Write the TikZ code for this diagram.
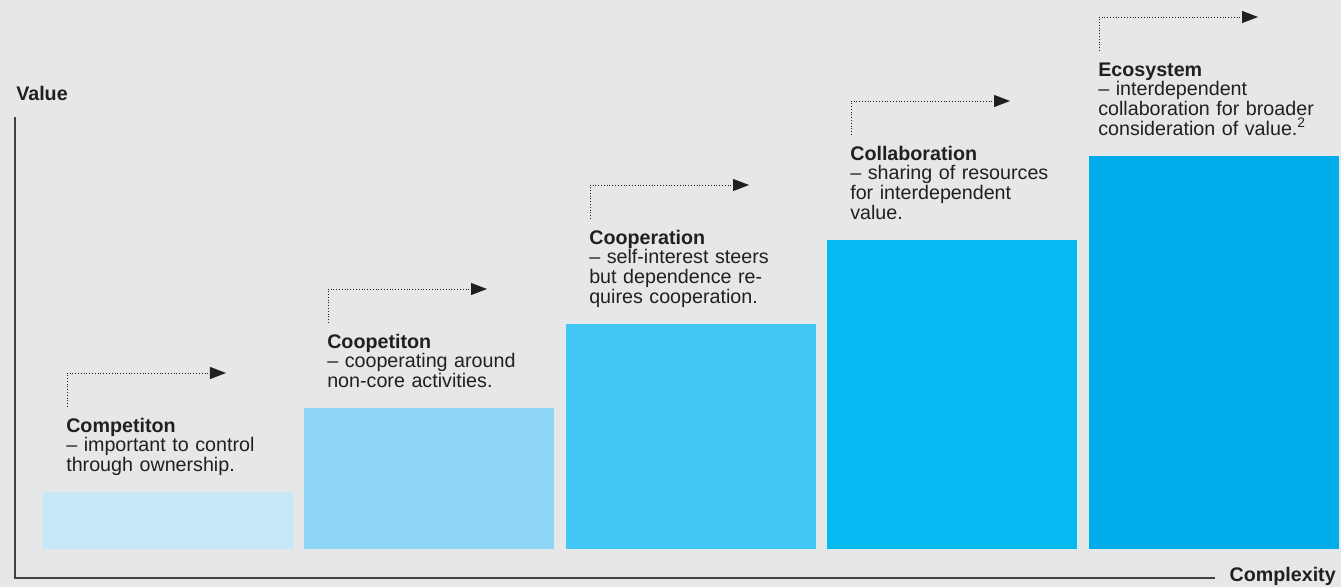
\documentclass[tikz,border=0pt]{standalone}
\usepackage{fontspec}
\setmainfont{Liberation Sans}
\usetikzlibrary{arrows.meta}

\definecolor{bggray}{HTML}{E6E7E9}
\definecolor{ink}{HTML}{231F20}
\definecolor{stageA}{HTML}{C5E9F9}
\definecolor{stageB}{HTML}{8ED6F7}
\definecolor{stageC}{HTML}{42C6F3}
\definecolor{stageD}{HTML}{05BAF1}
\definecolor{stageE}{HTML}{00ADEB}

\begin{document}
\begin{tikzpicture}[x=0.025cm,y=-0.025cm,
    stagetext/.style={anchor=base west, align=left, text width=7cm, inner sep=0pt,
        font=\fontsize{14}{14}\selectfont, text=ink},
    axislabel/.style={inner sep=0pt, font=\fontsize{14}{14}\selectfont\bfseries, text=ink},
    guide/.style={draw=ink, line width=0.7pt, dash pattern=on 0.7pt off 1.3pt,
        -{Triangle[length=0.4cm,width=0.3cm]}},
    axis/.style={draw=ink!85, line width=0.9pt}]
        \fill[bggray] (0,0) rectangle (1341,587);
        \useasboundingbox (0,0) rectangle (1341,587);

        % axes
        \coordinate (vtop) at (15,117);
        \coordinate (hend) at (1215,578);
        \draw[axis] (vtop) |- (hend);
        \node[axislabel, anchor=base west] (value) at (16,100) {Value};
        \node[axislabel, anchor=base east] (complexity) at (1336,581) {Complexity};

        % bars
        \fill[stageA] (43,492) rectangle (293,549);
        \fill[stageB] (304,408) rectangle (554,549);
        \fill[stageC] (566,324) rectangle (816,549);
        \fill[stageD] (827,240) rectangle (1077,549);
        \fill[stageE] (1089,156) rectangle (1339,549);

        % stage texts
        \node[stagetext] (competition) at (66,432) {\textbf{Competiton}\\ – important to control\\ through ownership.};
        \node[stagetext] (coopetition) at (327,348) {\textbf{Coopetiton}\\ – cooperating around\\ non-core activities.};
        \node[stagetext] (cooperation) at (589,244) {\textbf{Cooperation}\\ – self-interest steers\\ but dependence re-\\ quires cooperation.};
        \node[stagetext] (collaboration) at (850,160) {\textbf{Collaboration}\\ – sharing of resources\\ for interdependent\\ value.};
        \node[stagetext] (ecosystem) at (1098,76) {\textbf{Ecosystem}\\ – interdependent\\ collaboration for broader\\ consideration of value.\textsuperscript{2}};

        % dotted steps
        \coordinate (s1) at (67,407);   \coordinate (e1) at (226,373);
        \coordinate (s2) at (328,323);  \coordinate (e2) at (487,289);
        \coordinate (s3) at (590,219);  \coordinate (e3) at (749,185);
        \coordinate (s4) at (851,135);  \coordinate (e4) at (1010,101);
        \coordinate (s5) at (1099,51);  \coordinate (e5) at (1258,17);
        \draw[guide] (s1) |- (e1);
        \draw[guide] (s2) |- (e2);
        \draw[guide] (s3) |- (e3);
        \draw[guide] (s4) |- (e4);
        \draw[guide] (s5) |- (e5);
    \end{tikzpicture}
\end{document}
